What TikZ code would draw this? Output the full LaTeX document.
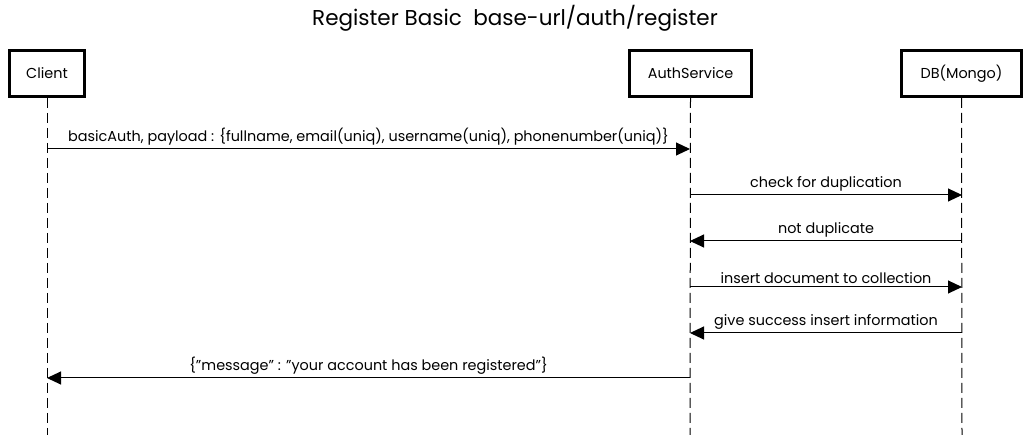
\documentclass[tikz,border=0pt]{standalone}
\usepackage{fontspec}
\setmainfont{Poppins}
\usetikzlibrary{arrows.meta}
\newcommand{\dq}{\symbol{34}}
\begin{document}
\begin{tikzpicture}[x=1pt,y=-1pt,
  actor/.style={draw,line width=2.8pt,minimum width=#1,minimum height=46pt,inner sep=0pt,font=\fontsize{14.4}{16}\selectfont},
  life/.style={line width=1pt,dash pattern=on 10pt off 5pt},
  msg/.style={line width=1pt,-{Triangle[length=14pt,width=13pt]}},
  lbl/.style={font=\fontsize{14.4}{16}\selectfont,inner sep=0pt}]
\useasboundingbox (0,0) rectangle (1029,435);
\node[font=\fontsize{21.5}{25}\selectfont] (title) at (515,18) {Register Basic\ \ base-url/auth/register};
\node[actor=75pt] (client) at (47,73.5) {Client};
\node[actor=122pt] (auth) at (690.5,73.5) {AuthService};
\node[actor=120pt] (db) at (961.5,73.5) {DB(Mongo)};
\coordinate (cend) at (47,435);
\coordinate (aend) at (690,435);
\coordinate (dend) at (962,435);
\draw[life] (client.south) -- (cend);
\draw[life] (auth.south) -- (aend);
\draw[life] (db.south) -- (dend);
\foreach \n/\y in {1/149,2/195,3/241,4/287,5/333,6/378}{
  \coordinate (c\n) at (47,\y);
  \coordinate (a\n) at (690,\y);
  \coordinate (d\n) at (962,\y);
}
\draw[msg] (c1) -- node[lbl,above=3pt] (m1) {basicAuth, payload : \{fullname, email(uniq), username(uniq), phonenumber(uniq)\}} (a1);
\draw[msg] (a2) -- node[lbl,above=3pt] (m2) {check for duplication} (d2);
\draw[msg] (d3) -- node[lbl,above=3pt] (m3) {not duplicate} (a3);
\draw[msg] (a4) -- node[lbl,above=3pt] (m4) {insert document to collection} (d4);
\draw[msg] (d5) -- node[lbl,above=3pt] (m5) {give success insert information} (a5);
\draw[msg] (a6) -- node[lbl,above=3pt] (m6) {\{\dq message\dq\ : \dq your account has been registered\dq\}} (c6);
\end{tikzpicture}
\end{document}
